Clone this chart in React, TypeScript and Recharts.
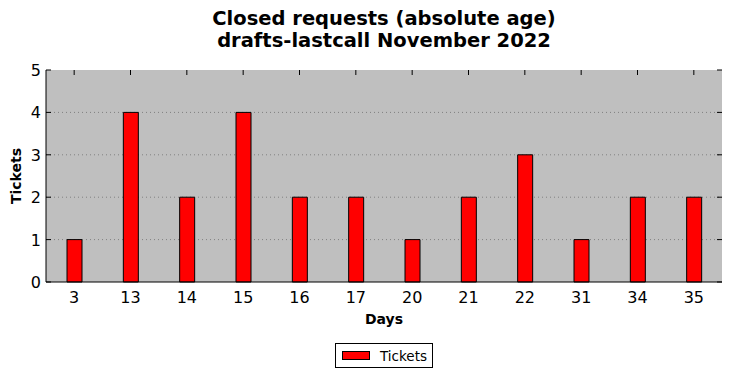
import { BarChart, Bar, XAxis, YAxis, CartesianGrid } from 'recharts'

const days = ['3', '13', '14', '15', '16', '17', '20', '21', '22', '31', '34', '35']
const tickets = [1, 4, 2, 4, 2, 2, 1, 2, 3, 1, 2, 2]
const yTicks = [0, 1, 2, 3, 4, 5]

const data = days.map((d, i) => ({ day: d, tickets: tickets[i] }))

const W = 732
const H = 378
const LEFT = 46
const RIGHT = 722
const TOP = 70
const BOTTOM = 282
const FONT = '"DejaVu Sans", sans-serif'

function XTick({ x, payload }: any) {
  return (
    <g>
      <line x1={x} x2={x} y1={TOP} y2={TOP + 5} stroke="#000" />
      <text x={x} y={BOTTOM + 21} textAnchor="middle" fontSize={16} fontFamily={FONT} fill="#000">
        {payload.value}
      </text>
    </g>
  )
}

function YTick({ y, payload }: any) {
  return (
    <g>
      <line x1={LEFT} x2={LEFT + 5} y1={y} y2={y} stroke="#000" />
      <line x1={RIGHT - 5} x2={RIGHT} y1={y} y2={y} stroke="#000" />
      <text x={LEFT - 5} y={y + 6} textAnchor="end" fontSize={16} fontFamily={FONT} fill="#000">
        {payload.value}
      </text>
    </g>
  )
}

export default function App() {
  return (
    <div style={{ position: 'absolute', left: 0, top: 0, width: W, height: H, background: '#fff', fontFamily: FONT }}>
      <div style={{ position: 'absolute', left: LEFT, width: RIGHT - LEFT, top: 8, textAlign: 'center', fontSize: 19.5, fontWeight: 'bold', lineHeight: '22px' }}>
        Closed requests (absolute age)
        <br />
        drafts-lastcall November 2022
      </div>
      <BarChart
        width={W}
        height={H}
        data={data}
        margin={{ top: TOP, right: W - RIGHT, left: 10, bottom: 0 }}
        barCategoryGap={0}
      >
        <CartesianGrid
          horizontal
          vertical={false}
          fill="#bfbfbf"
          stroke="#808080"
          strokeDasharray="1 3"
          horizontalValues={[1, 2, 3, 4]}
        />
        <XAxis
          dataKey="day"
          height={H - BOTTOM}
          axisLine={{ stroke: '#000' }}
          tickLine={false}
          tick={<XTick />}
          interval={0}
          label={{ value: 'Days', position: 'insideTop', offset: 32, fontSize: 14, fontWeight: 'bold', fill: '#000', fontFamily: FONT }}
        />
        <XAxis xAxisId="top" dataKey="day" orientation="top" height={0} axisLine={{ stroke: '#000' }} tick={false} tickLine={false} />
        <YAxis
          domain={[0, 5]}
          ticks={yTicks}
          width={LEFT - 10}
          axisLine={{ stroke: '#000' }}
          tickLine={false}
          tick={<YTick />}
          interval={0}
          label={{ value: 'Tickets', angle: -90, position: 'insideLeft', offset: 6, fontSize: 14, fontWeight: 'bold', fill: '#000', fontFamily: FONT, style: { textAnchor: 'middle' } }}
        />
        <YAxis yAxisId="right" orientation="right" domain={[0, 5]} width={0} axisLine={{ stroke: '#000' }} tick={false} tickLine={false} />
        <Bar dataKey="tickets" barSize={15} fill="#ff0000" stroke="#000" strokeWidth={1} isAnimationActive={false} />
      </BarChart>
      <div
        style={{
          position: 'absolute',
          left: 335,
          top: 343,
          width: 98,
          height: 25,
          border: '1px solid #000',
          display: 'flex',
          alignItems: 'center',
          fontSize: 13.5,
          boxSizing: 'border-box',
        }}
      >
        <span style={{ display: 'inline-block', width: 28, height: 9, background: '#ff0000', border: '1px solid #000', marginLeft: 6, marginRight: 10, boxSizing: 'border-box' }} />
        Tickets
      </div>
    </div>
  )
}
